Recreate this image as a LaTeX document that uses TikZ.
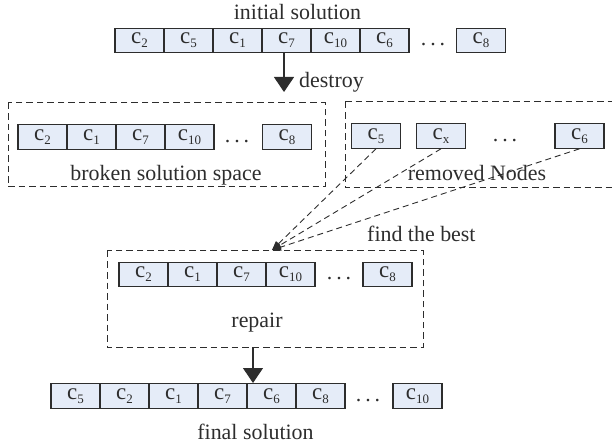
\documentclass[tikz,border=0pt]{standalone}
\usepackage{fontspec}
\setmainfont{Liberation Serif}
\usetikzlibrary{arrows.meta}
\definecolor{cellfill}{RGB}{229,236,248}
\definecolor{ink}{RGB}{45,45,45}
\newcommand\cidx[1]{\raisebox{-4bp}{\fontsize{13}{13}\selectfont #1}}
\newcommand\gapdots{.\hspace{4bp}.\hspace{4bp}.}
\tikzset{
  cell/.style={draw=ink, line width=1.1bp, fill=cellfill, minimum width=49bp,
    minimum height=24.5bp, inner sep=0pt, text=ink,
    font=\fontsize{23}{26}\selectfont},
  label/.style={text=ink, inner sep=0pt, anchor=base, font=\fontsize{22}{25}\selectfont},
  gap/.style={text=ink, inner sep=0pt, anchor=base, font=\fontsize{22}{25}\selectfont},
  region/.style={draw=ink, line width=1bp, dash pattern=on 6.5bp off 4bp},
  bigarrow/.style={draw=ink, line width=1.1bp, -{Triangle[length=15bp,width=20bp]}},
  pick/.style={draw=ink, line width=0.9bp, dash pattern=on 6bp off 4bp,
    -{Triangle[length=9bp,width=7bp]}}
}
\begin{document}
\begin{tikzpicture}[x=1bp, y=-1bp]
\useasboundingbox (0,0) rectangle (612,447);

% initial solution
\node[label] (tInit) at (297.5,20) {initial solution};
\foreach \n/\x/\i in {a/139.5/2, b/188.5/5, c/237.5/1, d/286.5/7, e/335.5/10, f/384.5/6, g/481/8}
  \node[cell] (i\n) at (\x,40.5) {c\cidx{\i}};
\node[gap] (iDots) at (433,46) {\gapdots};

% destroy step
\coordinate (dEnd) at (284,92);
\draw[bigarrow] (id.south -| dEnd) -- (dEnd);
\node[label, anchor=base west] (tDestroy) at (299,88) {destroy};

% broken solution space
\draw[region] (8,103) rectangle (325,187);
\foreach \n/\x/\i in {a/42.5/2, b/91.5/1, c/140.5/7, d/189.5/10, g/287/8}
  \node[cell] (b\n) at (\x,137) {c\cidx{\i}};
\node[gap] (bDots) at (237,142.5) {\gapdots};
\node[label] (tBroken) at (166,180.5) {broken solution space};

% removed nodes
\draw[region] (345,102) -- (620,102) (345,102) -- (345,188) -- (620,188);
\node[cell] (r5) at (376,136) {c\cidx{5}};
\node[cell] (rx) at (441,136) {c\cidx{x}};
\node[cell] (r6) at (579.5,136) {c\cidx{6}};
\node[gap] (rDots) at (505,141.5) {\gapdots};
\node[label] (tRemoved) at (477,181) {removed Nodes};

% repair
\draw[region] (107,251) rectangle (423,347);
\foreach \n/\x/\i in {a/143.5/2, b/192.5/1, c/241.5/7, d/290.5/10, g/387.5/8}
  \node[cell] (p\n) at (\x,274.5) {c\cidx{\i}};
\node[gap] (pDots) at (339,280) {\gapdots};
\node[label] (tRepair) at (257,327) {repair};
\node[label, anchor=base west] (tBest) at (367,242) {find the best};

% reinsertion of removed nodes
\coordinate (pIn) at (272,250);
\draw[pick] (r5.south) -- (pIn);
\draw[pick] (rx.south) -- (pIn);
\draw[pick] (r6.south) -- (pIn);

% final solution
\coordinate (pOut) at (253,347);
\coordinate (fIn) at (253,383);
\draw[bigarrow] (pOut) -- (fIn);
\foreach \n/\x/\i in {a/75.5/5, b/124.5/2, c/173.5/1, d/222.5/7, e/271.5/6, f/320.5/8, g/417.5/10}
  \node[cell] (f\n) at (\x,396) {c\cidx{\i}};
\node[gap] (fDots) at (368,401.5) {\gapdots};
\node[label] (tFinal) at (255.5,439) {final solution};
\end{tikzpicture}
\end{document}
